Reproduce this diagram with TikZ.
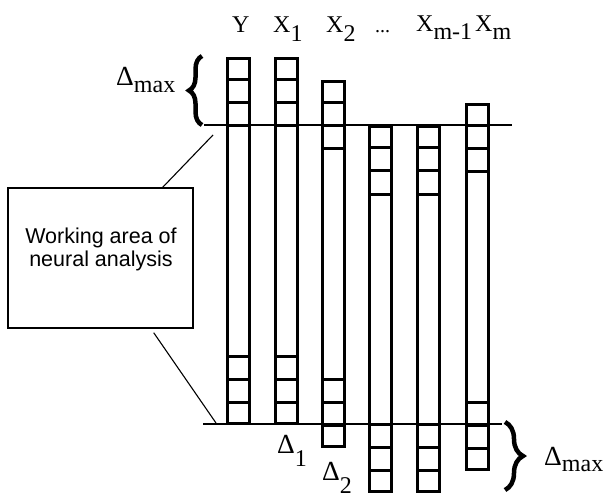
\documentclass[tikz,border=0pt]{standalone}
\usepackage{fontspec}
\setmainfont{Liberation Serif}
\newfontfamily\boxfont{Liberation Sans}
\usetikzlibrary{decorations.pathreplacing}
% subscript set at full size, only lowered
\newcommand\lowered[2][9]{\raisebox{-#1pt}{#2}}
% a slightly enlarged capital delta
\newcommand\bigdelta{\scalebox{1.15}{Δ}}
\begin{document}
\begin{tikzpicture}[x=1pt,y=-1pt,
  colbox/.style={draw, line width=3pt, inner sep=0pt, outer sep=0pt,
    minimum width=22pt, minimum height=365pt, anchor=north west},
  cellrule/.style={line width=3pt},
  level/.style={line width=1.4pt},
  link/.style={line width=1.1pt},
  lbl/.style={font=\fontsize{24}{28}\selectfont, inner sep=0pt, anchor=base west},
  bigbrace/.style={decorate, decoration={brace, amplitude=#1}, line width=4.5pt},
]
\useasboundingbox (0,0) rectangle (607,497);

% the six series columns: left edge / top edge
\foreach \i/\x/\t in {1/226/57, 2/274/57, 3/321/80, 4/368/125, 5/416/125, 6/465/103} {
  \node[colbox] (col\i) at (\x+1.5,\t+1.5) {};
  \foreach \k in {1,2,3,13,14,15}
    \draw[cellrule] ([yshift=-23*\k pt+1.5pt]col\i.north west) -- ([yshift=-23*\k pt+1.5pt]col\i.north east);
}

% upper and lower limits of the working window
\coordinate (topL) at (204,125);
\coordinate (topR) at (512,125);
\coordinate (botL) at (203,424);
\coordinate (botR) at (502,424);
\draw[level] (topL) -- (topR);
\draw[level] (botL) -- (botR);

% column headings
\node[lbl] (lY)  at (232,33) {Y};
\node[lbl] (lX1) at (273,33) {X\lowered{1}};
\node[lbl] (lX2) at (326,33) {X\lowered{2}};
\node[lbl, font=\fontsize{20}{24}\selectfont] (ldots) at (375,33) {...};
\node[lbl] (lXm1) at (416,32) {X\lowered[8]{m-1}};
\node[lbl] (lXm)  at (475,32) {X\lowered[8]{m}};

% shift labels
\node[lbl] (dmaxT) at (116,86) {\bigdelta\lowered[7]{max}};
\node[lbl] (d1) at (277,453) {\bigdelta\lowered[13]{1}};
\node[lbl] (d2) at (322,480) {\bigdelta\lowered[13]{2}};
\node[lbl] (dmaxB) at (544,465) {\bigdelta\lowered[6]{max}};

% braces marking the maximal shift
\draw[bigbrace=13pt] (202,125) -- (202,56);
\draw[bigbrace=18pt] (505,422) -- (505,490);

% call-out box
\node[draw, line width=1.4pt, minimum width=185pt, minimum height=140pt,
  inner sep=0pt] (work) at (100.5,258) {};
\node[font=\boxfont\fontsize{21.5}{23}\selectfont, align=center, inner sep=0pt]
  (worktext) at (101,249) {Working area of\\neural analysis};
\coordinate (upEnd) at (213,135);
\coordinate (lowEnd) at (216,423);
\draw[link] ([xshift=-31pt]work.north east) -- (upEnd);
\draw[link] ([xshift=-40pt,yshift=-4pt]work.south east) -- (lowEnd);
\end{tikzpicture}
\end{document}
